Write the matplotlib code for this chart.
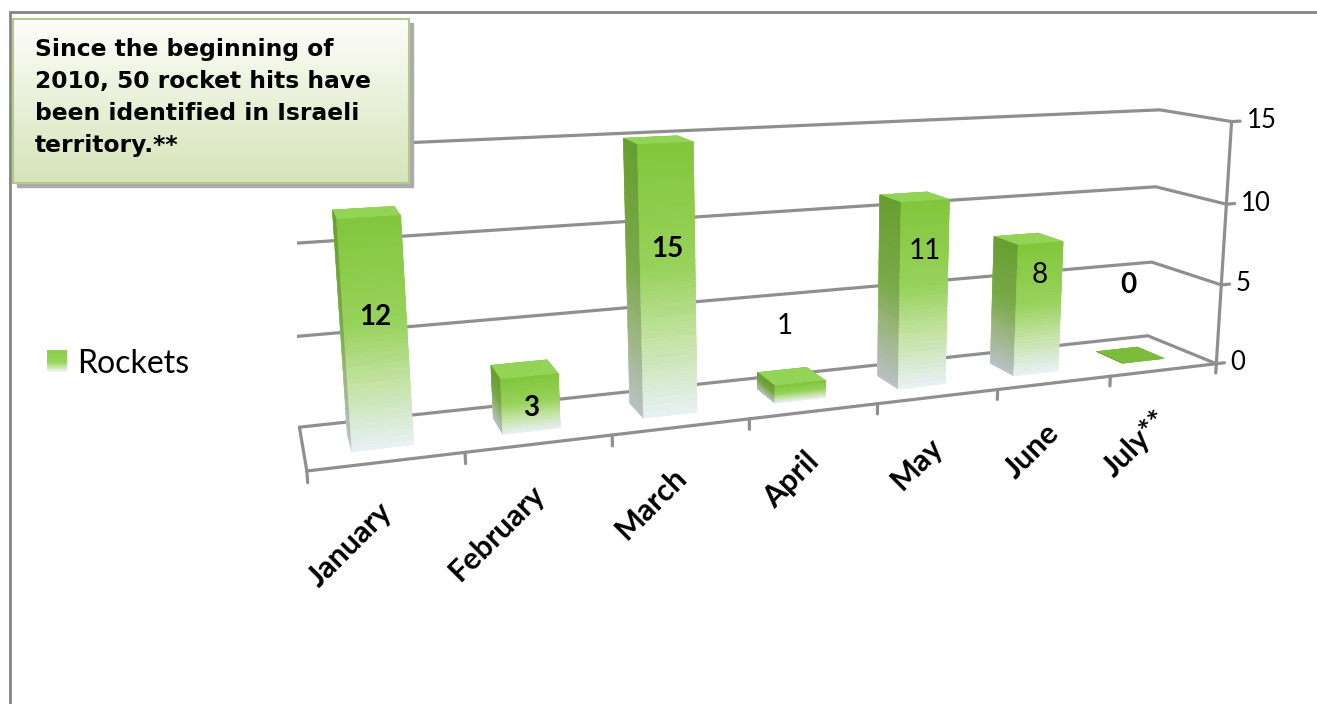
import numpy as np
import matplotlib.pyplot as plt
from matplotlib.colors import LinearSegmentedColormap, to_rgba
from matplotlib.patches import Rectangle
from matplotlib.transforms import offset_copy
from mpl_toolkits.mplot3d import proj3d

# data
months = ['January', 'February', 'March', 'April', 'May', 'June', 'July**']
rockets = [12, 3, 15, 1, 11, 8, 0]
label_bold = [True, True, True, False, False, False, True]
value_ticks = [0, 5, 10, 15]
series_name = 'Rockets'
note = ('Since the beginning of\n2010, 50 rocket hits have\n'
        'been identified in Israeli\nterritory.**')

# label placement (layout only): height on the bar, or pixels above short bars
label_z = [6.9, 1.3, 9.3, None, 8.1, 6.1, None]
label_up = [0, 0, 0, 57, 0, 0, 76]

W, H = 1317, 704
fig = plt.figure(figsize=(W / 100, H / 100), dpi=100)

# 3D axes, square in pixels
side = 962
cx, cy = 778, 425
depth = 0.95
ax = fig.add_axes([(cx - side / 2) / W, (cy - side / 2) / H, side / W, side / H],
                  projection='3d', computed_zorder=False)
ax.set_proj_type('persp', focal_length=0.28)
ax.view_init(elev=12, azim=-111)
ax.set_box_aspect((7, depth, 1.96))
n = len(months)
ax.set_xlim(0, n)
ax.set_ylim(0, depth)
ax.set_zlim(0, value_ticks[-1])
ax.set_xticks([])
ax.set_yticks([])
ax.set_zticks([])
ax.set_axis_off()
ax.patch.set_alpha(0)
for a in (ax.xaxis, ax.yaxis, ax.zaxis):
    a.label.set_visible(False)
    a.offsetText.set_visible(False)
M = ax.get_proj()


def label_at(x, y, z, s, dx=0, dy=0, **kw):
    # project a 3D point and write a flat text there
    X, Y, _ = proj3d.proj_transform(x, y, z, M)
    tr = offset_copy(ax.transData, fig=fig, x=dx, y=dy, units='dots')
    return ax.text2D(X, Y, s, transform=tr, zorder=6, **kw)


grid_kw = dict(color='#8f8f8f', lw=2.3, solid_capstyle='round', zorder=1)
for v in value_ticks:
    ax.plot([0, n, n], [depth, depth, 0], [v, v, v], **grid_kw)
ax.plot([0, 0, n], [depth, 0, 0], [0, 0, 0], **grid_kw)
ax.plot([n, n], [0, 0], [0, value_ticks[-1]], **grid_kw)
for i in range(n + 1):
    ax.plot([i, i], [0, 0], [0, -0.6], **grid_kw)
for v in value_ticks:
    ax.plot([n, n + 0.08], [0, 0], [v, v], **grid_kw)
    label_at(n + 0.14, 0, v, str(v), ha='left', va='center', fontsize=18.5,
             family='Lato')

# bars with a vertical gradient, drawn as stacked slices
grad = LinearSegmentedColormap.from_list(
    'rk', [(0, '#e8f1f6'), (0.3, '#c2e2a0'), (0.55, '#98d25c'), (1, '#82c63c')])


def dim(c, f):
    r, g, b, a = to_rgba(c)
    return (r * f, g * f, b * f, a)


top_col = '#93d355'
flat_col = '#7dbb3c'
bar_w = 0.4
bar_d = 0.4 * depth
y0 = (depth - bar_d) / 2
nslices = 40
xs, ys, zs, dzs, cols = [], [], [], [], []
for i, v in enumerate(rockets):
    k_n = nslices if v > 0 else 1
    for k in range(k_n):
        c = to_rgba(grad((k + 0.5) / k_n)) if v > 0 else to_rgba(flat_col)
        tc = to_rgba(top_col) if v > 0 else to_rgba(flat_col)
        xs.append(i + 0.5 - bar_w / 2)
        ys.append(y0)
        zs.append(v * k / k_n)
        dzs.append(v / k_n)
        # faces: -z, +z, -y, +y, -x, +x
        cols += [c, tc, c, c, dim(c, 0.8), c]
ax.bar3d(xs, ys, zs, bar_w, bar_d, dzs, color=cols, shade=False, zorder=3,
         edgecolor=cols, linewidth=0.4)

for i, v in enumerate(rockets):
    weight = 'bold' if label_bold[i] else 'normal'
    if label_z[i] is not None:
        label_at(i + 0.5, y0, label_z[i], str(v), ha='center', va='center',
                 fontsize=20, family='Lato', fontweight=weight)
    else:
        label_at(i + 0.5, y0, v, str(v), dx=-15, dy=label_up[i], ha='center',
                 va='center', fontsize=20, family='Lato', fontweight=weight)

for i, m in enumerate(months):
    label_at(i + 0.5, 0, 0, m, dy=-46, rotation=45, rotation_mode='anchor',
             ha='right', va='center', fontsize=22, fontweight='bold',
             family=['Lato', 'DejaVu Sans'])

# legend swatch + label
leg = fig.add_axes([47 / W, 1 - 372 / H, 20 / W, 22 / H])
swatch = LinearSegmentedColormap.from_list(
    'sw', [(0, '#8ccf4a'), (0.55, '#96d45a'), (1, '#f2f7f4')])
leg.imshow(np.linspace(0, 1, 50)[:, None], cmap=swatch, aspect='auto')
leg.set_axis_off()
fig.text(77 / W, 1 - 364 / H, series_name, fontsize=23, family='Lato',
         va='center', ha='left')

# note box with shadow
bx0, by0, bx1, by1 = 13, 19, 409, 183
shadow = Rectangle(((bx0 + 4) / W, 1 - (by1 + 4) / H), (bx1 - bx0) / W,
                   (by1 - by0) / H, transform=fig.transFigure,
                   color='#ababab', zorder=2)
fig.add_artist(shadow)
box = fig.add_axes([bx0 / W, 1 - by1 / H, (bx1 - bx0) / W, (by1 - by0) / H])
box.set_zorder(3)
note_cmap = LinearSegmentedColormap.from_list('nb', ['#fdfdf9', '#d6e4ba'])
box.imshow(np.linspace(0, 1, 100)[:, None], cmap=note_cmap, aspect='auto',
           extent=(0, 1, 0, 1))
box.set_xticks([])
box.set_yticks([])
for s in box.spines.values():
    s.set_color('#b3c98c')
    s.set_linewidth(1.5)
box.text(22 / (bx1 - bx0), 1 - 19 / (by1 - by0), note, transform=box.transAxes,
         va='top', ha='left', fontsize=16.8, fontweight='bold',
         family='DejaVu Sans', linespacing=1.5)

# chart area border
fig.add_artist(Rectangle((10 / W, -0.1), 1.2, 1.1 - 12 / H, fill=False,
                         edgecolor='#858585', lw=2, transform=fig.transFigure,
                         zorder=1))

fig.savefig('out.png', dpi=100)
